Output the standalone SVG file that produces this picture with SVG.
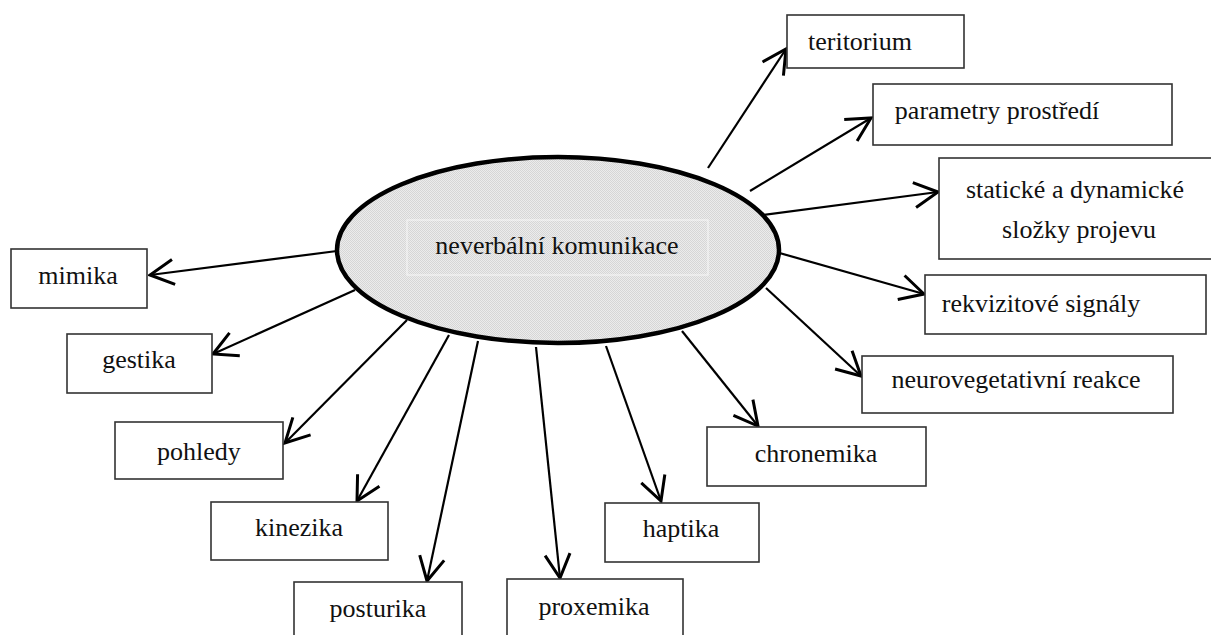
<svg xmlns="http://www.w3.org/2000/svg" width="1211" height="635" viewBox="0 0 1211 635">
  <style>
    .box { fill: #ffffff; stroke: #333333; stroke-width: 1.6; }
    .lbl { font-family: "Liberation Serif", "Times New Roman", serif; font-size: 26px; fill: #111111; text-anchor: middle; }
    .link { stroke: #000000; stroke-width: 2.2; fill: none; marker-end: url(#arrow); }
  </style>
  <defs>
    <marker id="arrow" markerUnits="userSpaceOnUse" markerWidth="30" markerHeight="30" viewBox="-22 -12 24 24" refX="0" refY="0" orient="auto">
      <path d="M -19 -10 L 0 0 L -19 10" fill="none" stroke="#000000" stroke-width="2.4" stroke-linejoin="miter"/>
    </marker>
    <pattern id="dots" width="2" height="2" patternUnits="userSpaceOnUse">
      <rect width="2" height="2" fill="#ececec"/>
      <rect width="1" height="1" fill="#d6d6d6"/>
      <rect x="1" y="1" width="1" height="1" fill="#d6d6d6"/>
    </pattern>
  </defs>

  <!-- connectors -->
  <g id="connectors">
    <line class="link" x1="708" y1="168" x2="786" y2="49"/>
    <line class="link" x1="750" y1="191" x2="871" y2="118"/>
    <line class="link" x1="756" y1="216" x2="938" y2="192"/>
    <line class="link" x1="776" y1="252" x2="924" y2="294"/>
    <line class="link" x1="766" y1="288" x2="861" y2="376"/>
    <line class="link" x1="682" y1="331" x2="758" y2="426"/>
    <line class="link" x1="606" y1="346" x2="661" y2="501"/>
    <line class="link" x1="536" y1="347" x2="560" y2="578"/>
    <line class="link" x1="478" y1="341" x2="427" y2="581"/>
    <line class="link" x1="449" y1="335" x2="357" y2="501"/>
    <line class="link" x1="407" y1="320" x2="285" y2="443"/>
    <line class="link" x1="355" y1="290" x2="213" y2="354"/>
    <line class="link" x1="337" y1="251" x2="150" y2="275"/>
  </g>

  <!-- central node -->
  <g id="center">
    <ellipse cx="558" cy="250" rx="221" ry="93" fill="url(#dots)" stroke="#000000" stroke-width="4.5"/>
    <rect x="407" y="220" width="301" height="55" fill="none" stroke="#f8f8f8" stroke-width="1"/>
    <text class="lbl" x="557" y="254">neverbální komunikace</text>
  </g>

  <g id="teritorium">
    <rect class="box" x="787" y="15" width="177" height="53"/>
    <text class="lbl" x="860" y="50">teritorium</text>
  </g>
  <g id="parametry">
    <rect class="box" x="873" y="84" width="299" height="61"/>
    <text class="lbl" x="997" y="119">parametry prostředí</text>
  </g>
  <g id="staticke">
    <rect class="box" x="939" y="158" width="280" height="101"/>
    <text class="lbl" x="1075" y="198">statické a dynamické</text>
    <text class="lbl" x="1079" y="238">složky projevu</text>
  </g>
  <g id="rekvizitove">
    <rect class="box" x="925" y="275" width="281" height="59"/>
    <text class="lbl" x="1041" y="312">rekvizitové signály</text>
  </g>
  <g id="neurovegetativni">
    <rect class="box" x="862" y="356" width="311" height="57"/>
    <text class="lbl" x="1016" y="388">neurovegetativní reakce</text>
  </g>
  <g id="chronemika">
    <rect class="box" x="707" y="427" width="219" height="59"/>
    <text class="lbl" x="816" y="462">chronemika</text>
  </g>
  <g id="haptika">
    <rect class="box" x="605" y="503" width="154" height="59"/>
    <text class="lbl" x="681" y="537">haptika</text>
  </g>
  <g id="proxemika">
    <rect class="box" x="507" y="579" width="176" height="70"/>
    <text class="lbl" x="594" y="615">proxemika</text>
  </g>
  <g id="posturika">
    <rect class="box" x="294" y="582" width="168" height="70"/>
    <text class="lbl" x="378" y="617">posturika</text>
  </g>
  <g id="kinezika">
    <rect class="box" x="211" y="502" width="177" height="58"/>
    <text class="lbl" x="299" y="536">kinezika</text>
  </g>
  <g id="pohledy">
    <rect class="box" x="115" y="422" width="168" height="57"/>
    <text class="lbl" x="199" y="460">pohledy</text>
  </g>
  <g id="gestika">
    <rect class="box" x="67" y="334" width="145" height="59"/>
    <text class="lbl" x="139" y="368">gestika</text>
  </g>
  <g id="mimika">
    <rect class="box" x="11" y="249" width="136" height="59"/>
    <text class="lbl" x="78" y="284">mimika</text>
  </g>
</svg>
